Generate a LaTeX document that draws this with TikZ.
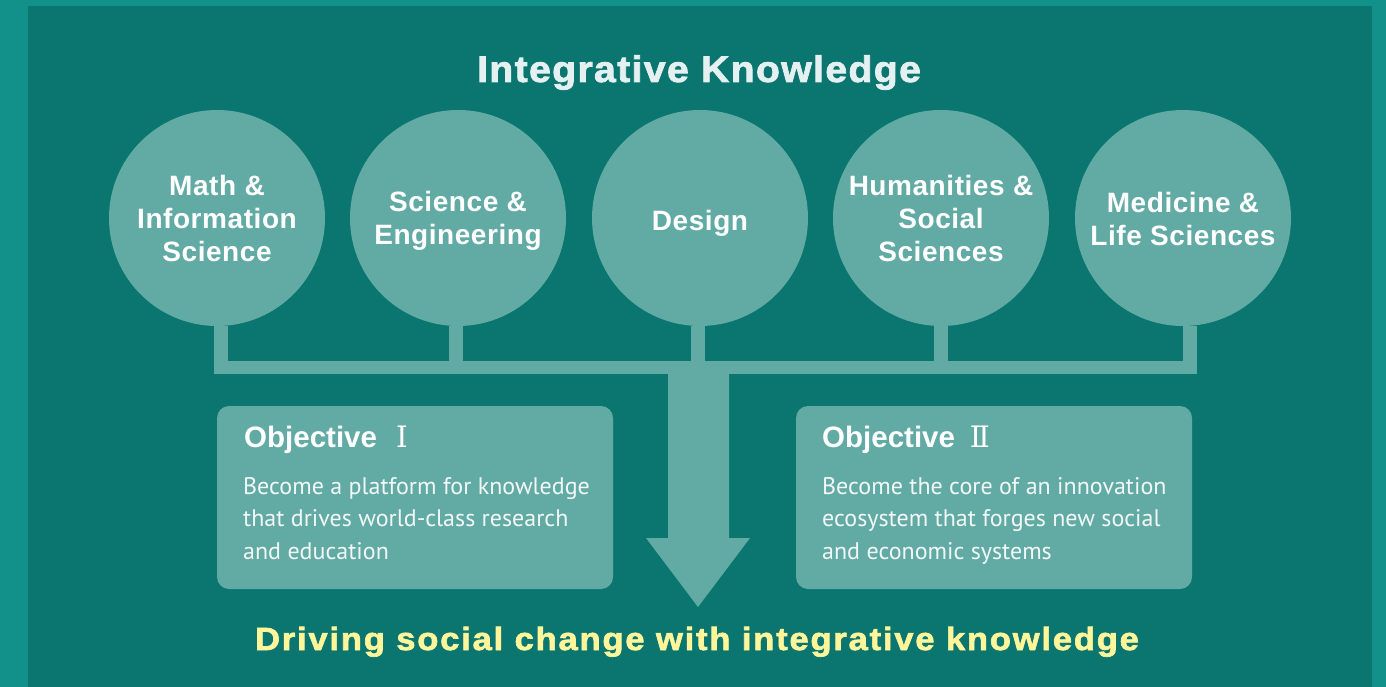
\documentclass[tikz,border=0pt]{standalone}
\usepackage{fontspec}
\setmainfont{Liberation Sans}
\newfontfamily\bodyfont{PT Sans}
\newfontfamily\numfont{DejaVu Serif}
\newfontfamily\widebold[LetterSpace=3.6,FakeStretch=1.06,FakeBold=2]{Liberation Sans Bold}
\newfontfamily\goalfont[LetterSpace=5.6,FakeStretch=1.08,FakeBold=2]{Liberation Sans Bold}
\newfontfamily\circfont[LetterSpace=2]{Liberation Sans Bold}
\usetikzlibrary{calc}
\definecolor{outerbg}{HTML}{12908A}
\definecolor{innerbg}{HTML}{0B7670}
\definecolor{lightteal}{HTML}{62AAA4}
\definecolor{titlecol}{HTML}{E4F1F0}
\definecolor{yellowtxt}{HTML}{FFF59A}
\definecolor{bodytxt}{HTML}{F2F8F7}
\tikzset{
  field/.style={circle,fill=lightteal,minimum size=216pt,inner sep=0pt},
  fieldtxt/.style={text=white,align=center,font=\fontsize{28}{33}\selectfont\circfont},
  objbox/.style={rectangle,rounded corners=12pt,fill=lightteal,minimum width=396pt,minimum height=183pt,inner sep=0pt},
  objhead/.style={text=white,anchor=base west,inner sep=0pt,font=\fontsize{29.5}{33}\selectfont\bfseries},
  objbody/.style={text=bodytxt,anchor=base west,inner sep=0pt,align=left,font=\fontsize{24}{32.5}\selectfont\bodyfont},
  stem/.style={draw=lightteal,line width=14pt,line cap=butt},
  hbar/.style={draw=lightteal,line width=13pt,line cap=butt}
}
\begin{document}
\begin{tikzpicture}[x=1pt,y=-1pt]
\useasboundingbox (0,0) rectangle (1386,687);
\fill[outerbg] (0,0) rectangle (1386,687);
\fill[innerbg] (28,6) rectangle (1372,687);
% title
\node[text=titlecol,font=\fontsize{37}{40}\selectfont\widebold,anchor=base,inner sep=0pt] (title) at (699,82) {Integrative Knowledge};
% circles
\node[field] (c1) at (217,218) {};
\node[field] (c2) at (458,218) {};
\node[field] (c3) at (700,218) {};
\node[field] (c4) at (941,218) {};
\node[field] (c5) at (1183,218) {};
\node[fieldtxt] (t1) at (217,218) {Math \&\\Information\\Science};
\node[fieldtxt] (t2) at (458,221) {Science \&\\Engineering};
\node[fieldtxt] (t3) at (700,223) {Design};
\node[fieldtxt] (t4) at (941,218) {Humanities \&\\Social\\Sciences};
\node[fieldtxt] (t5) at (1183,219) {Medicine \&\\Life Sciences};
% connector bar
\coordinate (b1) at (221,367.5);
\coordinate (b2) at (456,367.5);
\coordinate (b3) at (697.5,367.5);
\coordinate (b4) at (941,367.5);
\coordinate (b5) at (1189.5,367.5);
\draw[stem] ([xshift=4pt]c1.south) -- ([yshift=-6.5pt]b1);
\draw[stem] ([xshift=-2pt]c2.south) -- ([yshift=-6.5pt]b2);
\draw[stem] ([xshift=-2.5pt]c3.south) -- ([yshift=-6.5pt]b3);
\draw[stem] (c4.south) -- ([yshift=-6.5pt]b4);
\draw[stem] ([xshift=6.5pt]c5.south) -- ([yshift=-6.5pt]b5);
\draw[hbar] ([xshift=-7pt]b1) -- ([xshift=7pt]b5);
% objective boxes
\node[objbox] (o1) at (415,497.5) {};
\node[objbox] (o2) at (994,497.5) {};
% big arrow
\coordinate (tip) at (698,607);
\fill[lightteal] (668,374) -- (729,374) -- (729,538) -- (750,538) -- (tip) -- (646,538) -- (668,538) -- cycle;
% objective texts
\node[objhead] (h1) at (244,447) {Objective\hspace{0.65em}{\numfont\mdseries Ⅰ}};
\node[objhead] (h2) at (822,447) {Objective\hspace{0.5em}{\numfont\mdseries Ⅱ}};
\node[objbody] (d1) at (243,559) {Become a platform for knowledge\\that drives world-class research\\and education};
\node[objbody] (d2) at (822,559) {Become the core of an innovation\\ecosystem that forges new social\\and economic systems};
% bottom line
\node[text=yellowtxt,font=\fontsize{32}{36}\selectfont\goalfont,anchor=base,inner sep=0pt] (goal) at (697,650) {Driving social change with integrative knowledge};
\end{tikzpicture}
\end{document}
